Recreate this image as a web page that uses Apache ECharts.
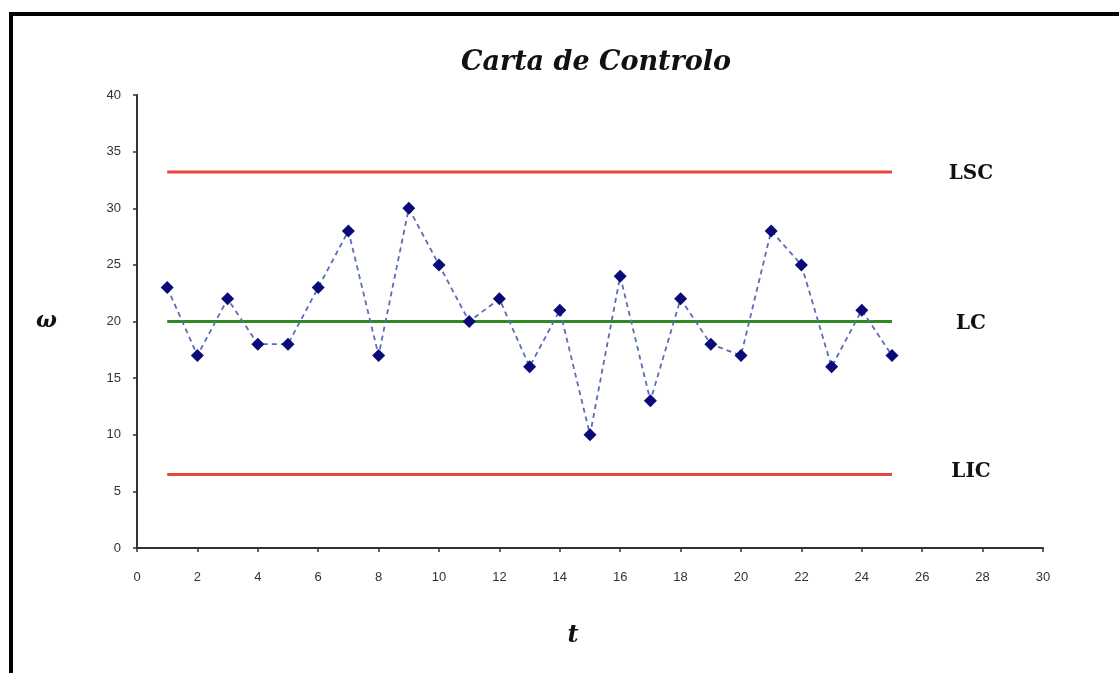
<!DOCTYPE html>
<html><head><meta charset="utf-8">
<script src="https://cdn.jsdelivr.net/npm/echarts@6/dist/echarts.min.js"></script>
<style>
html,body{margin:0;padding:0;background:#fff;overflow:hidden;}
#frame{position:absolute;left:9px;top:12px;width:1200px;height:800px;border:4px solid #000;box-sizing:border-box;}
#chart{position:absolute;left:0;top:0;width:1119px;height:673px;}
</style></head>
<body>
<div id="frame"></div>
<div id="chart"></div>
<script>
const t = [1,2,3,4,5,6,7,8,9,10,11,12,13,14,15,16,17,18,19,20,21,22,23,24,25];
const omega = [23,17,22,18,18,23,28,17,30,25,20,22,16,21,10,24,13,22,18,17,28,25,16,21,17];
const LSC = 33.2, LC = 20, LIC = 6.5;
const limitNames = ['LSC','LC','LIC'];
const limitValues = [LSC, LC, LIC];
const xTicks = [0,30,2];
const yTicks = [0,40,5];

const chart = echarts.init(document.getElementById('chart'));
const serif = '"DejaVu Serif", "Liberation Serif", serif';
function limitSeries(name, val, color, dy){
  return {
    name, type:'line', data:[[t[0],val],[t[t.length-1],val]],
    symbol:'none', lineStyle:{color, width:3}, z:1, silent:true,
    endLabel:{show:true, formatter:name, distance:79, align:'center', offset:[0,dy],
      fontFamily:serif, fontWeight:'bold', fontSize:20, color:'#111'}
  };
}
chart.setOption({
  animation:false,
  title:{text:'Carta de Controlo', left:591, textAlign:'center', top:44,
    textStyle:{fontFamily:serif, fontStyle:'italic', fontWeight:'bold', fontSize:27, color:'#111'}},
  grid:{left:137, right:76, top:95, bottom:125, containLabel:false},
  xAxis:{type:'value', min:xTicks[0], max:xTicks[1], interval:xTicks[2],
    name:'t', nameLocation:'middle', nameGap:76,
    nameTextStyle:{fontFamily:serif, fontStyle:'italic', fontWeight:'bold', fontSize:24, color:'#111', padding:[0,0,0,-34]},
    axisLine:{lineStyle:{color:'#333', width:2}},
    axisTick:{show:true, length:4, lineStyle:{color:'#333', width:1.5}},
    axisLabel:{margin:23, fontFamily:'Arial, "Liberation Sans", sans-serif', fontSize:13, color:'#333'},
    splitLine:{show:false}},
  yAxis:{type:'value', min:yTicks[0], max:yTicks[1], interval:yTicks[2],
    name:'ω', nameLocation:'middle', nameGap:80, nameRotate:0,
    nameTextStyle:{fontFamily:serif, fontStyle:'italic', fontWeight:'bold', fontSize:22, color:'#111'},
    axisLine:{show:true, lineStyle:{color:'#333', width:2}},
    axisTick:{show:true, length:4, lineStyle:{color:'#333', width:1.5}},
    axisLabel:{margin:16, fontFamily:'Arial, "Liberation Sans", sans-serif', fontSize:13, color:'#333'},
    splitLine:{show:false}},
  series:[
    limitSeries(limitNames[0], limitValues[0], '#e8453c', 2),
    limitSeries(limitNames[1], limitValues[1], '#2f8a23', 2),
    limitSeries(limitNames[2], limitValues[2], '#e8453c', -3),
    {name:'ω', type:'line', data:t.map((x,i)=>[x,omega[i]]), z:3,
      symbol:'diamond', symbolSize:13,
      itemStyle:{color:'#0a0a78'},
      lineStyle:{color:'#5b6cb8', width:1.8, type:[5,4]}}
  ]
});
</script>
</body></html>
